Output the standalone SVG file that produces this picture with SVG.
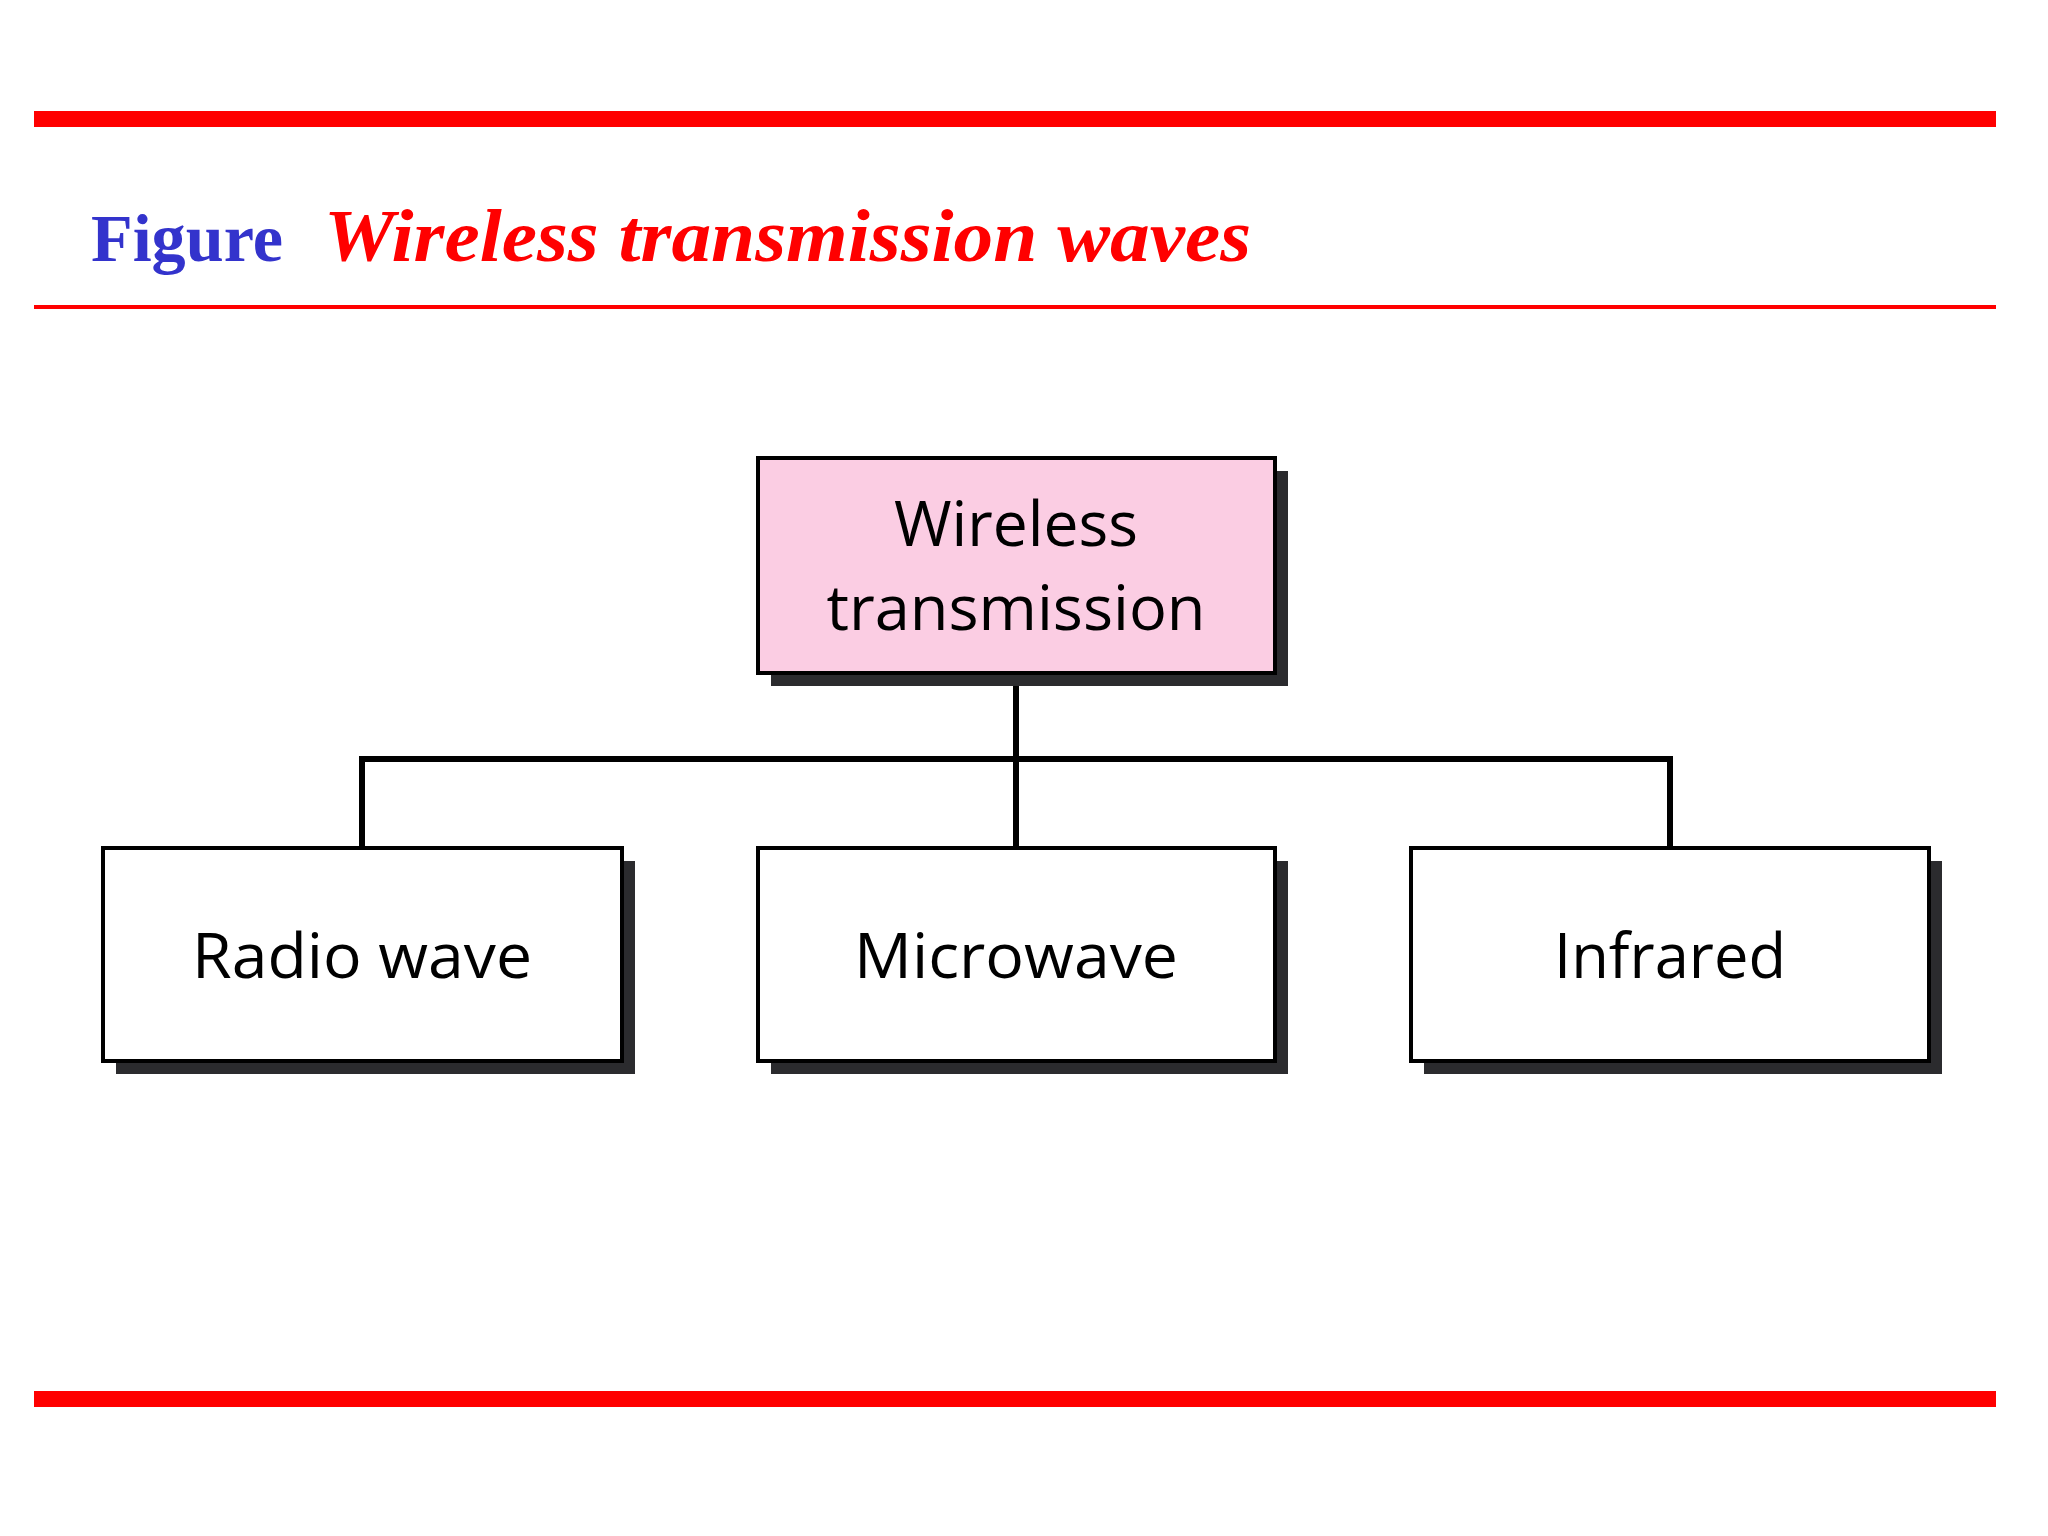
<svg xmlns="http://www.w3.org/2000/svg" width="2048" height="1536" viewBox="0 0 2048 1536">
<style>
.box{stroke:#000;stroke-width:4}
.sh{fill:#2b2b2e}
.lbl{font-family:"Open Sans",sans-serif;font-size:62px;fill:#000;text-anchor:middle}
.con{stroke:#000;stroke-width:6;fill:none}
</style>
<rect width="2048" height="1536" fill="#fff"/>
<rect x="34" y="111" width="1962" height="16" fill="#f00"/>
<rect x="34" y="305" width="1962" height="4" fill="#f00"/>
<rect x="34" y="1391" width="1962" height="16" fill="#f00"/>
<text x="91" y="261" font-family="Liberation Serif,serif" font-weight="bold" font-size="68" fill="#3333cc" textLength="192" lengthAdjust="spacingAndGlyphs">Figure</text>
<text x="324" y="261" font-family="Liberation Serif,serif" font-weight="bold" font-style="italic" font-size="74" fill="#f00" textLength="927" lengthAdjust="spacingAndGlyphs">Wireless transmission waves</text>
<g id="connectors">
<path class="con" d="M1016 673V848M362 848V759H1670V848"/>
</g>
<g id="root">
<rect class="sh" x="771" y="471" width="517" height="215"/>
<rect class="box" x="758" y="458" width="517" height="215" fill="#fbcde3"/>
<text class="lbl" x="1016" y="546" textLength="244" lengthAdjust="spacingAndGlyphs">Wireless</text>
<text class="lbl" x="1016" y="630" textLength="379" lengthAdjust="spacingAndGlyphs">transmission</text>
</g>
<g id="radio">
<rect class="sh" x="116" y="861" width="519" height="213"/>
<rect class="box" x="103" y="848" width="519" height="213" fill="#fff"/>
<text class="lbl" x="362" y="978" textLength="340" lengthAdjust="spacingAndGlyphs">Radio wave</text>
</g>
<g id="micro">
<rect class="sh" x="771" y="861" width="517" height="213"/>
<rect class="box" x="758" y="848" width="517" height="213" fill="#fff"/>
<text class="lbl" x="1016" y="978" textLength="324" lengthAdjust="spacingAndGlyphs">Microwave</text>
</g>
<g id="infra">
<rect class="sh" x="1424" y="861" width="518" height="213"/>
<rect class="box" x="1411" y="848" width="518" height="213" fill="#fff"/>
<text class="lbl" x="1670" y="978" textLength="232" lengthAdjust="spacingAndGlyphs">Infrared</text>
</g>
</svg>
